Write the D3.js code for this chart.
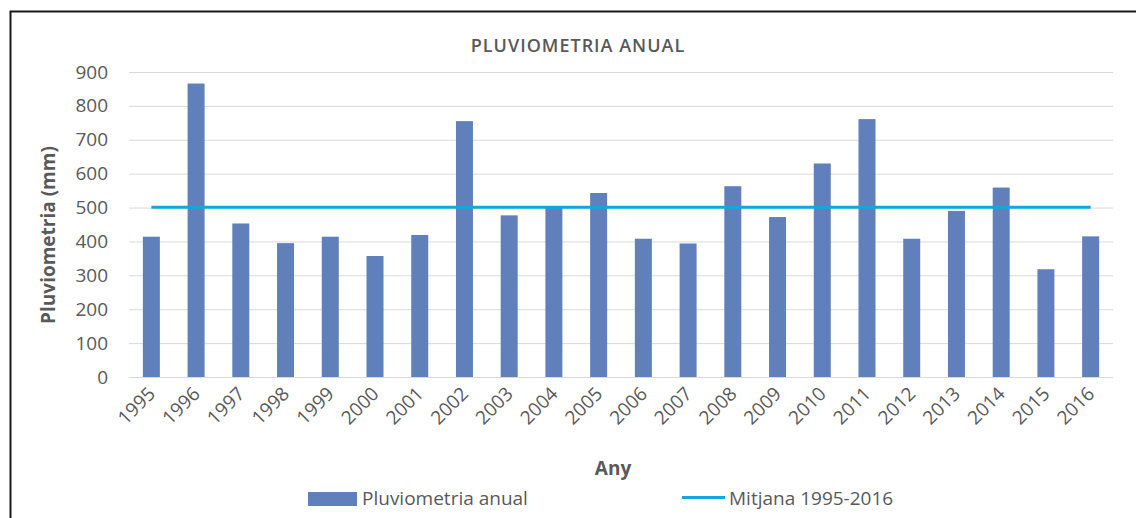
<!DOCTYPE html>
<html><head><meta charset="utf-8">
<script src="https://cdn.jsdelivr.net/npm/d3@7"></script>
<style>body{margin:0;background:#fff;} text{font-family:"Open Sans","Liberation Sans",sans-serif;}</style>
</head><body>
<svg id="c" width="1136" height="518"></svg>
<script>
const years = ["1995","1996","1997","1998","1999","2000","2001","2002","2003","2004","2005","2006","2007","2008","2009","2010","2011","2012","2013","2014","2015","2016"];
const rainfall = [414,866,453,395,414,357,419,755,477,502,543,408,394,563,472,630,761,408,490,559,318,415];
const meanValue = 501;
const yTicks = [0,100,200,300,400,500,600,700,800,900];

(function(){
const svg = d3.select("#c");
const W = 1136, H = 518;
const pLeft = 129, pRight = 1113, pTop = 72, pBottom = 377;
const grey = "#595959";

svg.append("rect").attr("x",0).attr("y",0).attr("width",W).attr("height",H).attr("fill","#fff");
svg.append("path").attr("d",`M10.5,${H} L10.5,11.5 L${W},11.5`).attr("fill","none").attr("stroke","#1a1a1a").attr("stroke-width",2);

const x = d3.scaleBand().domain(years).range([pLeft,pRight]).paddingInner(0.62).paddingOuter(0.31);
const y = d3.scaleLinear().domain([0,900]).range([pBottom,pTop]);

svg.append("g").selectAll("line").data(yTicks).join("line")
  .attr("x1",pLeft).attr("x2",pRight).attr("y1",d=>y(d)+0.5).attr("y2",d=>y(d)+0.5)
  .attr("stroke","#d9d9d9").attr("stroke-width",1);

const yAxis = d3.axisLeft(y).tickValues(yTicks).tickSize(0).tickPadding(21);
const gy = svg.append("g").attr("transform",`translate(${pLeft},0)`).call(yAxis);
gy.select(".domain").remove();
gy.selectAll("text").attr("fill",grey).style("font-size","19px").style("font-family","'Open Sans',sans-serif");

svg.append("g").selectAll("rect").data(rainfall).join("rect")
  .attr("x",(d,i)=>x(years[i])).attr("width",x.bandwidth())
  .attr("y",d=>y(d)).attr("height",d=>y(0)-y(d))
  .attr("fill","#5f80bb");

svg.append("line")
  .attr("x1",x(years[0])+x.bandwidth()/2).attr("x2",x(years[years.length-1])+x.bandwidth()/2)
  .attr("y1",y(meanValue)).attr("y2",y(meanValue))
  .attr("stroke","#13a6e0").attr("stroke-width",3);

const xAxis = d3.axisBottom(x).tickSize(0).tickPadding(0);
const gx = svg.append("g").attr("transform",`translate(0,${pBottom})`).call(xAxis);
gx.select(".domain").remove();
gx.selectAll("text").attr("fill",grey).style("font-size","19px").style("font-family","'Open Sans',sans-serif")
  .attr("text-anchor","end").attr("dy",null).attr("y",0)
  .attr("transform","translate(5,18) rotate(-45)");

svg.append("text").attr("x",578).attr("y",52).attr("text-anchor","middle")
  .attr("fill",grey).style("font-size","18px").style("font-weight","600").style("letter-spacing","1px")
  .text("PLUVIOMETRIA ANUAL");
svg.append("text").attr("transform","translate(55,235) rotate(-90)").attr("text-anchor","middle")
  .attr("fill",grey).style("font-size","19px").style("font-weight","bold")
  .text("Pluviometria (mm)");
svg.append("text").attr("x",613).attr("y",475).attr("text-anchor","middle")
  .attr("fill",grey).style("font-size","19px").style("font-weight","bold")
  .text("Any");

svg.append("rect").attr("x",308).attr("y",492).attr("width",49).attr("height",14).attr("fill","#5f80bb");
svg.append("text").attr("x",362).attr("y",505).attr("fill",grey).style("font-size","19px").text("Pluviometria anual");
svg.append("line").attr("x1",682).attr("x2",725).attr("y1",497.5).attr("y2",497.5).attr("stroke","#13a6e0").attr("stroke-width",3);
svg.append("text").attr("x",729).attr("y",505).attr("fill",grey).style("font-size","19px").text("Mitjana 1995-2016");
})();
</script>
</body></html>
